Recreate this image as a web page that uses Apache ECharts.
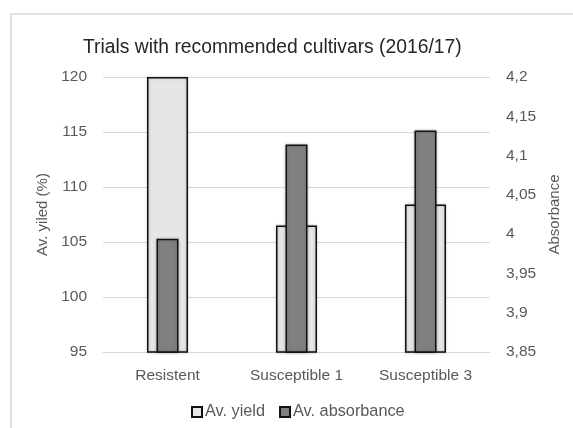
<!DOCTYPE html>
<html>
<head>
<meta charset="utf-8">
<script src="https://cdn.jsdelivr.net/npm/echarts@6/dist/echarts.min.js"></script>
<style>
  html, body { margin: 0; padding: 0; background: #fff; }
  #chart { width: 573px; height: 428px; }
</style>
</head>
<body>
<div id="chart"></div>
<script>
const categories = ['Resistent', 'Susceptible 1', 'Susceptible 3'];
const yieldValues = [120, 106.5, 108.4];
const absorbanceValues = [3.994, 4.114, 4.132];

const chart = echarts.init(document.getElementById('chart'));
const font = '"Liberation Sans", Arial, sans-serif';

chart.setOption({
  textStyle: { fontFamily: font },
  title: {
    text: 'Trials with recommended cultivars (2016/17)',
    left: 78,
    top: 33,
    textStyle: { fontFamily: font, fontSize: 19.3, fontWeight: 'normal', color: '#262626' }
  },
  graphic: [{
    type: 'rect',
    shape: { x: 11, y: 14, width: 600, height: 500 },
    style: { fill: 'none', stroke: '#d9d9d9', lineWidth: 1.5 },
    silent: true
  }],
  legend: {
    bottom: 3,
    left: 186,
    itemWidth: 10,
    itemHeight: 10,
    itemGap: 14,
    icon: 'rect',
    textStyle: { fontFamily: font, fontSize: 16.3, color: '#595959', padding: [0, 0, 0, -2] },
    data: ['Av. yield', 'Av. absorbance']
  },
  grid: { left: 103, right: 83, top: 77, bottom: 76 },
  xAxis: [
    {
      type: 'category',
      data: categories,
      axisLine: { lineStyle: { color: '#d9d9d9' } },
      axisTick: { show: false },
      axisLabel: { fontFamily: font, fontSize: 15.5, color: '#595959', margin: 16 }
    },
    {
      type: 'category',
      data: categories,
      show: false
    }
  ],
  yAxis: [
    {
      type: 'value',
      min: 95,
      max: 120,
      interval: 5,
      name: 'Av. yiled (%)',
      nameLocation: 'middle',
      nameGap: 48,
      nameTextStyle: { fontFamily: font, fontSize: 15, color: '#595959' },
      axisLine: { show: false },
      axisTick: { show: false },
      axisLabel: { fontFamily: font, fontSize: 15.5, color: '#595959', margin: 16 },
      splitLine: { lineStyle: { color: '#d9d9d9', width: 1 } }
    },
    {
      type: 'value',
      min: 3.85,
      max: 4.2,
      interval: 0.05,
      name: 'Absorbance',
      nameLocation: 'middle',
      nameRotate: 90,
      nameGap: 56,
      nameTextStyle: { fontFamily: font, fontSize: 15, color: '#595959' },
      axisLine: { show: false },
      axisTick: { show: false },
      axisLabel: {
        fontFamily: font, fontSize: 15.5, color: '#595959', margin: 16,
        formatter: function (v) {
          return String(Math.round(v * 100) / 100).replace('.', ',');
        }
      },
      splitLine: { show: false }
    }
  ],
  series: [
    {
      name: 'Av. yield',
      type: 'bar',
      xAxisIndex: 0,
      yAxisIndex: 0,
      barWidth: 41,
      itemStyle: {
        color: '#e6e6e6',
        borderColor: '#111',
        borderWidth: 1.5,
        shadowColor: 'rgba(0,0,0,0.25)',
        shadowBlur: 3
      },
      data: yieldValues
    },
    {
      name: 'Av. absorbance',
      type: 'bar',
      xAxisIndex: 1,
      yAxisIndex: 1,
      barWidth: 22,
      itemStyle: {
        color: '#808080',
        borderColor: '#111',
        borderWidth: 1.5,
        shadowColor: 'rgba(0,0,0,0.25)',
        shadowBlur: 3
      },
      data: absorbanceValues
    }
  ]
});
</script>
</body>
</html>
